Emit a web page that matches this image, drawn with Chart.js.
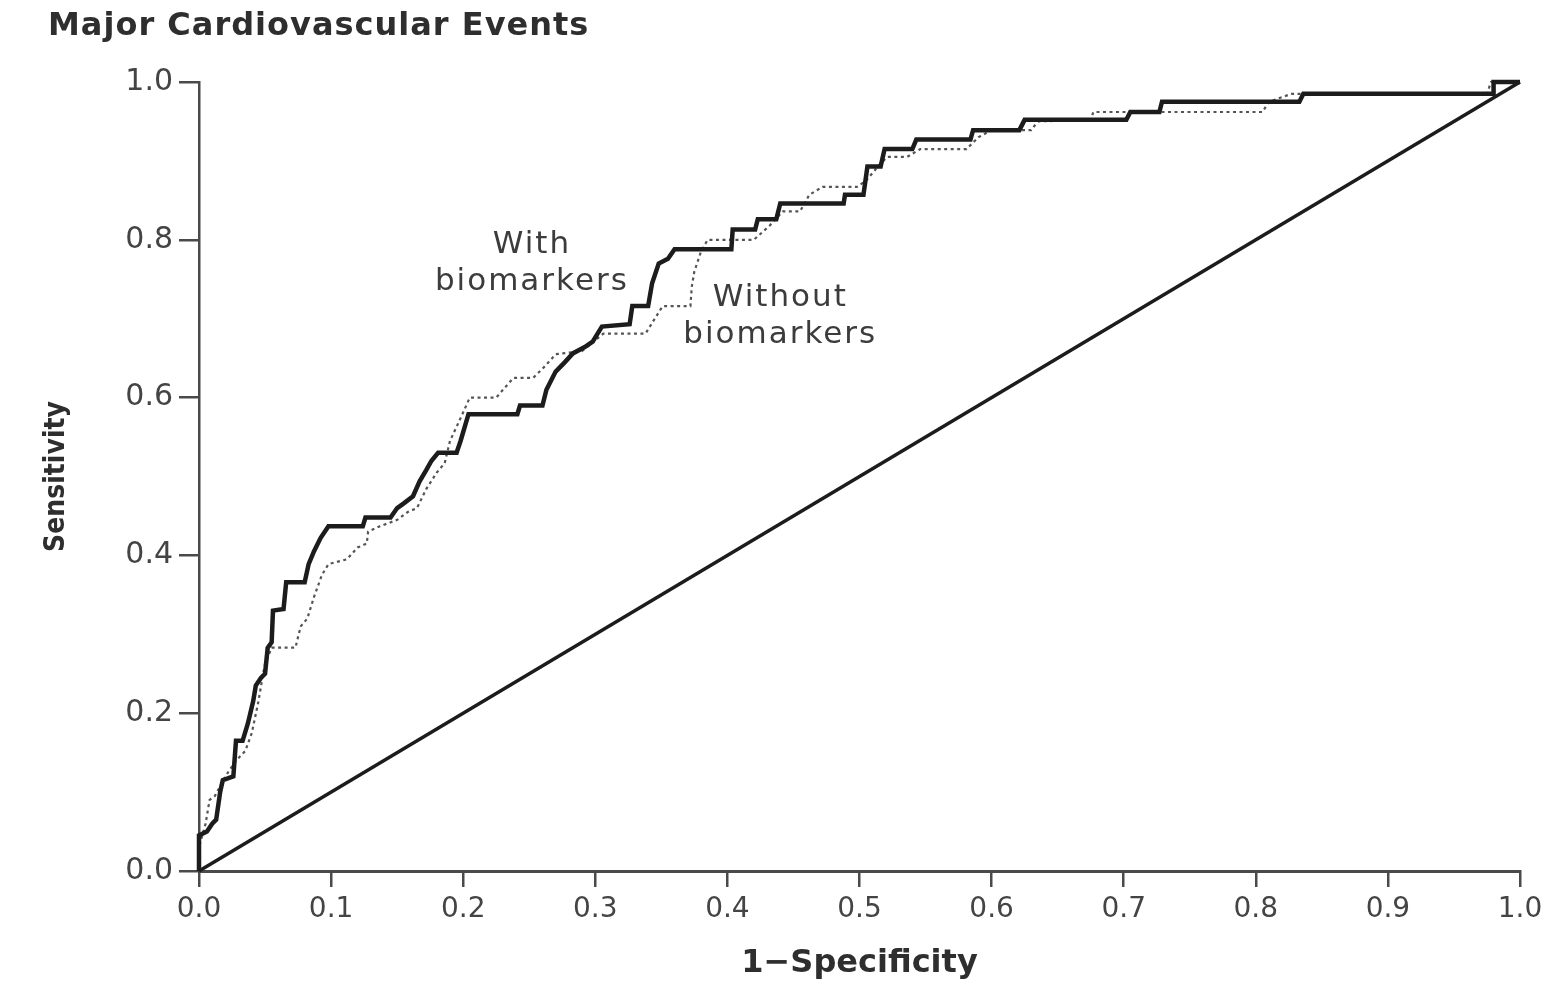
<!DOCTYPE html>
<html>
<head>
<meta charset="utf-8">
<title>Major Cardiovascular Events</title>
<script src="https://cdn.jsdelivr.net/npm/chart.js@4.4.1/dist/chart.umd.min.js"></script>
<style>
  html, body { margin: 0; padding: 0; background: #ffffff; }
  #wrap { width: 1555px; height: 996px; }
</style>
</head>
<body>
<div id="wrap"><canvas id="roc" width="1555" height="996"></canvas></div>
<script>
// ROC curve vertices: false-positive rate (1 - specificity) and sensitivity
const withFpr = [0, 0, 0.006, 0.010, 0.013, 0.016, 0.018, 0.026, 0.028, 0.033, 0.037, 0.041, 0.043, 0.047, 0.050,
  0.052, 0.055, 0.056, 0.064, 0.066, 0.080, 0.083, 0.087, 0.092, 0.098, 0.124, 0.126, 0.145, 0.150, 0.155,
  0.162, 0.167, 0.172, 0.176, 0.181, 0.195, 0.198, 0.204, 0.241, 0.243, 0.260, 0.263, 0.270, 0.277, 0.283,
  0.292, 0.298, 0.305, 0.326, 0.328, 0.340, 0.343, 0.348, 0.355, 0.360, 0.403, 0.404, 0.421, 0.423, 0.437,
  0.440, 0.488, 0.489, 0.503, 0.506, 0.516, 0.519, 0.540, 0.543, 0.584, 0.586, 0.621, 0.625, 0.702, 0.705,
  0.727, 0.729, 0.833, 0.836, 0.980, 0.980, 1.0];
const withTpr = [0, 0.045, 0.050, 0.060, 0.065, 0.100, 0.115, 0.120, 0.165, 0.165, 0.187, 0.215, 0.235, 0.245, 0.250,
  0.283, 0.290, 0.330, 0.332, 0.366, 0.366, 0.389, 0.405, 0.422, 0.437, 0.437, 0.448, 0.448, 0.460, 0.466,
  0.475, 0.494, 0.508, 0.520, 0.530, 0.530, 0.545, 0.579, 0.579, 0.590, 0.590, 0.610, 0.633, 0.645, 0.656,
  0.664, 0.671, 0.690, 0.693, 0.716, 0.716, 0.745, 0.770, 0.776, 0.788, 0.788, 0.813, 0.813, 0.826, 0.826,
  0.846, 0.846, 0.857, 0.857, 0.893, 0.893, 0.915, 0.915, 0.927, 0.927, 0.939, 0.939, 0.952, 0.952, 0.962,
  0.962, 0.975, 0.975, 0.985, 0.985, 1.0, 1.0];

const withoutFpr = [0, 0, 0.005, 0.008, 0.012, 0.020, 0.028, 0.035, 0.040, 0.045, 0.048, 0.050, 0.055, 0.073, 0.077,
  0.082, 0.087, 0.093, 0.098, 0.112, 0.120, 0.127, 0.128, 0.137, 0.150, 0.158, 0.165, 0.172, 0.180, 0.186,
  0.190, 0.198, 0.205, 0.225, 0.238, 0.253, 0.262, 0.270, 0.290, 0.306, 0.338, 0.345, 0.351, 0.372, 0.373,
  0.375, 0.380, 0.385, 0.420, 0.432, 0.442, 0.455, 0.462, 0.472, 0.498, 0.505, 0.515, 0.521, 0.536, 0.546,
  0.581, 0.590, 0.600, 0.630, 0.635, 0.675, 0.677, 0.805, 0.810, 0.827, 0.975, 0.978, 1.0];
const withoutTpr = [0, 0.030, 0.060, 0.090, 0.095, 0.120, 0.140, 0.152, 0.175, 0.215, 0.245, 0.263, 0.283, 0.283, 0.310,
  0.320, 0.347, 0.375, 0.389, 0.395, 0.410, 0.415, 0.430, 0.437, 0.445, 0.455, 0.460, 0.484, 0.505, 0.517,
  0.545, 0.574, 0.600, 0.600, 0.625, 0.625, 0.640, 0.655, 0.659, 0.681, 0.681, 0.700, 0.716, 0.716, 0.740,
  0.760, 0.785, 0.800, 0.800, 0.818, 0.836, 0.836, 0.857, 0.867, 0.867, 0.875, 0.895, 0.905, 0.905, 0.915,
  0.915, 0.930, 0.939, 0.939, 0.950, 0.952, 0.962, 0.962, 0.975, 0.985, 0.985, 1.0, 1.0];

// Line of no discrimination
const chanceFpr = [0, 1];
const chanceTpr = [0, 1];

// Axis ticks
const xTickValues = [0, 0.1, 0.2, 0.3, 0.4, 0.5, 0.6, 0.7, 0.8, 0.9, 1.0];
const xTickLabels = ['0.0', '0.1', '0.2', '0.3', '0.4', '0.5', '0.6', '0.7', '0.8', '0.9', '1.0'];
const yTickValues = [0, 0.2, 0.4, 0.6, 0.8, 1.0];
const yTickLabels = ['0.0', '0.2', '0.4', '0.6', '0.8', '1.0'];

const toPoints = (xs, ys) => xs.map((x, i) => ({ x: x, y: ys[i] }));

const ink = '#1c1c1c';
const axisGrey = '#4a4a4a';

// Panel heading
const headingPlugin = {
  id: 'heading',
  afterDraw(chart) {
    const c = chart.ctx;
    c.save();
    c.font = "bold 32px 'DejaVu Sans', sans-serif";
    if ('letterSpacing' in c) c.letterSpacing = '1px';
    c.fillStyle = '#2e2e2e';
    c.textAlign = 'left';
    c.textBaseline = 'middle';
    c.fillText('Major Cardiovascular Events', 48, 27);
    c.restore();
  }
};

// Curve labels placed in data coordinates
const curveLabelPlugin = {
  id: 'curveLabels',
  afterDatasetsDraw(chart, args, opts) {
    const c = chart.ctx;
    const xs = chart.scales.x, ys = chart.scales.y;
    c.save();
    c.font = "31px 'DejaVu Sans', sans-serif";
    if ('letterSpacing' in c) c.letterSpacing = '2px';
    c.fillStyle = '#3c3c3c';
    c.textAlign = 'center';
    c.textBaseline = 'middle';
    opts.items.forEach(item => {
      const px = xs.getPixelForValue(item.x);
      let py = ys.getPixelForValue(item.y);
      item.lines.forEach(line => {
        c.fillText(line, px, py);
        py += 37;
      });
    });
    c.restore();
  }
};

new Chart(document.getElementById('roc'), {
  type: 'scatter',
  data: {
    datasets: [
      {
        label: 'With biomarkers',
        data: toPoints(withFpr, withTpr),
        showLine: true,
        borderColor: ink,
        borderWidth: 4.5,
        pointRadius: 0,
        borderJoinStyle: 'miter',
        clip: false
      },
      {
        label: 'Without biomarkers',
        data: toPoints(withoutFpr, withoutTpr),
        showLine: true,
        borderColor: '#555555',
        borderWidth: 2.2,
        borderDash: [3, 3.5],
        pointRadius: 0,
        clip: false
      },
      {
        label: 'Chance',
        data: toPoints(chanceFpr, chanceTpr),
        showLine: true,
        borderColor: ink,
        borderWidth: 3.5,
        pointRadius: 0,
        clip: false
      }
    ]
  },
  options: {
    responsive: false,
    animation: false,
    devicePixelRatio: 1,
    layout: { padding: { top: 82, right: 35, left: 0, bottom: 0 } },
    plugins: {
      legend: { display: false },
      tooltip: { enabled: false },
      curveLabels: {
        items: [
          { lines: ['With', 'biomarkers'], x: 0.252, y: 0.793 },
          { lines: ['Without', 'biomarkers'], x: 0.44, y: 0.726 }
        ]
      }
    },
    scales: {
      x: {
        type: 'linear',
        min: 0,
        max: 1,
        afterBuildTicks: s => { s.ticks = xTickValues.map(v => ({ value: v })); },
        afterFit: s => { s.height = 125; },
        ticks: {
          callback: (v, i) => xTickLabels[i],
          font: { family: "'DejaVu Sans', sans-serif", size: 28 },
          color: '#444444',
          padding: 6,
          maxRotation: 0,
          autoSkip: false
        },
        grid: { drawOnChartArea: false, drawTicks: true, tickLength: 16, color: axisGrey, lineWidth: 2.5 },
        border: { display: true, color: axisGrey, width: 3 },
        title: {
          display: true,
          text: '1\u2212Specificity',
          color: '#2e2e2e',
          font: { family: "'DejaVu Sans', sans-serif", size: 32, weight: 'bold' },
          padding: { top: 0, bottom: 13 }
        }
      },
      y: {
        type: 'linear',
        min: 0,
        max: 1,
        afterBuildTicks: s => { s.ticks = yTickValues.map(v => ({ value: v })); },
        afterFit: s => { s.width = 199; },
        ticks: {
          callback: (v, i) => yTickLabels[i],
          font: { family: "'DejaVu Sans', sans-serif", size: 30 },
          color: '#444444',
          padding: 6
        },
        grid: { drawOnChartArea: false, drawTicks: true, tickLength: 20, color: axisGrey, lineWidth: 2.5 },
        border: { display: true, color: axisGrey, width: 2.5 },
        title: {
          display: true,
          text: 'Sensitivity',
          color: '#2e2e2e',
          font: { family: "'Liberation Sans Narrow', 'DejaVu Sans Condensed', sans-serif", size: 28, weight: 'bold' },
          padding: { top: 40, bottom: 0 }
        }
      }
    }
  },
  plugins: [headingPlugin, curveLabelPlugin]
});
</script>
</body>
</html>
